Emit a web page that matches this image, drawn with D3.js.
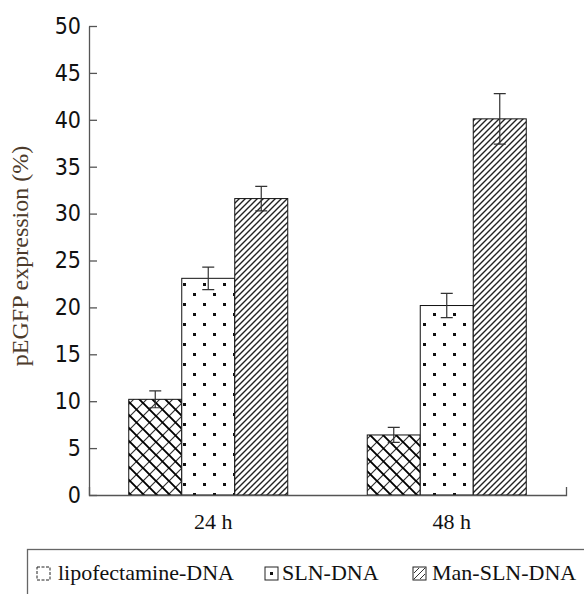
<!DOCTYPE html>
<html>
<head>
<meta charset="utf-8">
<script src="https://cdn.jsdelivr.net/npm/d3@7"></script>
<style>
  body { margin: 0; background: #fff; }
  svg { display: block; }
</style>
</head>
<body>
<div id="chart"></div>
<script>
const groups = ['24 h', '48 h'];
const seriesNames = ['lipofectamine-DNA', 'SLN-DNA', 'Man-SLN-DNA'];
const lipoValues = [10.2, 6.4];
const lipoErrors = [0.9, 0.8];
const slnValues = [23.1, 20.2];
const slnErrors = [1.2, 1.3];
const manValues = [31.6, 40.1];
const manErrors = [1.3, 2.7];
const yTicks = [0, 5, 10, 15, 20, 25, 30, 35, 40, 45, 50];

const width = 584;
const height = 594;
const patternIds = ['cross', 'dots', 'diag'];
const serif = '"Liberation Serif", "Times New Roman", serif';

const rows = [];
groups.forEach((g, gi) => {
    rows.push({ group: g, series: seriesNames[0], value: lipoValues[gi], err: lipoErrors[gi] });
    rows.push({ group: g, series: seriesNames[1], value: slnValues[gi], err: slnErrors[gi] });
    rows.push({ group: g, series: seriesNames[2], value: manValues[gi], err: manErrors[gi] });
});

const svg = d3.select('#chart')
    .append('svg')
    .attr('width', width)
    .attr('height', height);

const defs = svg.append('defs');

// crosshatch: thick "\" lines, thinner "/" lines
const cross = defs.append('pattern')
    .attr('id', 'cross')
    .attr('patternUnits', 'userSpaceOnUse')
    .attr('width', 13).attr('height', 13);
cross.append('rect').attr('width', 13).attr('height', 13).attr('fill', '#fff');
cross.append('path')
    .attr('d', 'M-1,14 L14,-1 M-3,3 L3,-3 M10,16 L16,10')
    .attr('stroke', '#333').attr('stroke-width', 1.2);
cross.append('path')
    .attr('d', 'M-1,-1 L14,14 M-3,10 L3,16 M10,-3 L16,3')
    .attr('stroke', '#000').attr('stroke-width', 1.9);

// dots in a staggered grid
const dots = defs.append('pattern')
    .attr('id', 'dots')
    .attr('patternUnits', 'userSpaceOnUse')
    .attr('width', 20).attr('height', 20);
dots.append('rect').attr('width', 20).attr('height', 20).attr('fill', '#fff');
dots.append('rect').attr('x', 3).attr('y', 3).attr('width', 3).attr('height', 3).attr('fill', '#111');
dots.append('rect').attr('x', 13).attr('y', 13).attr('width', 3).attr('height', 3).attr('fill', '#111');

// dense "/" hatching
const diag = defs.append('pattern')
    .attr('id', 'diag')
    .attr('patternUnits', 'userSpaceOnUse')
    .attr('width', 6).attr('height', 6);
diag.append('rect').attr('width', 6).attr('height', 6).attr('fill', '#fff');
diag.append('path')
    .attr('d', 'M-1,7 L7,-1 M-2,2 L2,-2 M4,8 L8,4')
    .attr('stroke', '#222').attr('stroke-width', 1.4);

const x0 = d3.scaleBand()
    .domain(groups)
    .range([89, 566])
    .paddingInner(1 / 3)
    .paddingOuter(1 / 6);

const x1 = d3.scaleBand()
    .domain(seriesNames)
    .range([0, x0.bandwidth()]);

const yScale = d3.scaleLinear()
    .domain([0, 50])
    .range([495, 26]);

const color = d3.scaleOrdinal()
    .domain(seriesNames)
    .range(patternIds.map(id => `url(#${id})`));

// bars
svg.append('g')
    .selectAll('rect')
    .data(rows)
    .enter()
    .append('rect')
        .attr('x', d => x0(d.group) + x1(d.series))
        .attr('y', d => yScale(d.value))
        .attr('width', x1.bandwidth())
        .attr('height', d => yScale(0) - yScale(d.value))
        .attr('fill', d => color(d.series))
        .attr('stroke', '#111')
        .attr('stroke-width', 1);

// error bars
const errs = svg.append('g')
    .attr('stroke', '#333')
    .attr('stroke-width', 1.2);
const cx = d => x0(d.group) + x1(d.series) + x1.bandwidth() / 2;
errs.selectAll('path')
    .data(rows)
    .enter()
    .append('path')
        .attr('fill', 'none')
        .attr('d', d => {
            const top = yScale(d.value + d.err);
            const bot = yScale(d.value - d.err);
            return `M${cx(d) - 6},${top}H${cx(d) + 6}M${cx(d)},${top}V${bot}M${cx(d) - 6},${bot}H${cx(d) + 6}`;
        });

// y axis, ticks pointing inward
const yAxis = svg.append('g')
    .attr('transform', 'translate(89, 0)')
    .call(d3.axisLeft(yScale)
        .tickValues(yTicks)
        .tickSizeInner(-8)
        .tickSizeOuter(0)
        .tickPadding(8));
yAxis.selectAll('path, line').attr('stroke', '#555').attr('stroke-width', 1.3);
yAxis.selectAll('text')
    .attr('fill', '#111')
    .style('font-family', '"DejaVu Sans Condensed", "DejaVu Sans", sans-serif')
    .style('font-size', '23px');

// x axis
const xAxis = svg.append('g')
    .attr('transform', 'translate(0, 495)')
    .call(d3.axisBottom(x0)
        .tickSizeInner(0)
        .tickSizeOuter(-8)
        .tickPadding(18));
xAxis.selectAll('path, line').attr('stroke', '#555').attr('stroke-width', 1.3);
xAxis.selectAll('text')
    .attr('fill', '#111')
    .attr('dx', 5)
    .style('font-family', serif)
    .style('font-size', '22px');

// y label
svg.append('text')
    .attr('transform', 'translate(28, 256) rotate(-90)')
    .attr('text-anchor', 'middle')
    .attr('fill', '#4d3b2b')
    .style('font-family', serif)
    .style('font-size', '24px')
    .text('pEGFP expression (%)');

// legend
svg.append('rect')
    .attr('x', 27.5).attr('y', 549.5)
    .attr('width', 600).attr('height', 100)
    .attr('fill', 'none')
    .attr('stroke', '#666')
    .attr('stroke-width', 1.3);

const legendX = [37, 265, 413];
const legend = svg.append('g')
    .selectAll('g')
    .data(seriesNames)
    .enter()
    .append('g')
        .attr('transform', (d, i) => `translate(${legendX[i]}, 567)`);

legend.append('rect')
    .attr('width', 13).attr('height', 13)
    .attr('fill', '#fff')
    .attr('stroke', '#222')
    .attr('stroke-width', 1)
    .attr('stroke-dasharray', (d, i) => i === 0 ? '3,1.5' : null);

legend.filter((d, i) => i === 1)
    .append('rect')
        .attr('x', 5).attr('y', 5).attr('width', 3).attr('height', 3)
        .attr('fill', '#111');

legend.filter((d, i) => i === 2)
    .append('path')
        .attr('d', 'M1,12 L12,1 M1,6 L6,1 M7,12 L12,7')
        .attr('stroke', '#333')
        .attr('stroke-width', 1);

legend.append('text')
    .attr('x', (d, i) => [21, 17, 19][i])
    .attr('y', 13)
    .attr('fill', '#111')
    .style('font-family', serif)
    .style('font-size', '22px')
    .text(d => d);
</script>
</body>
</html>
